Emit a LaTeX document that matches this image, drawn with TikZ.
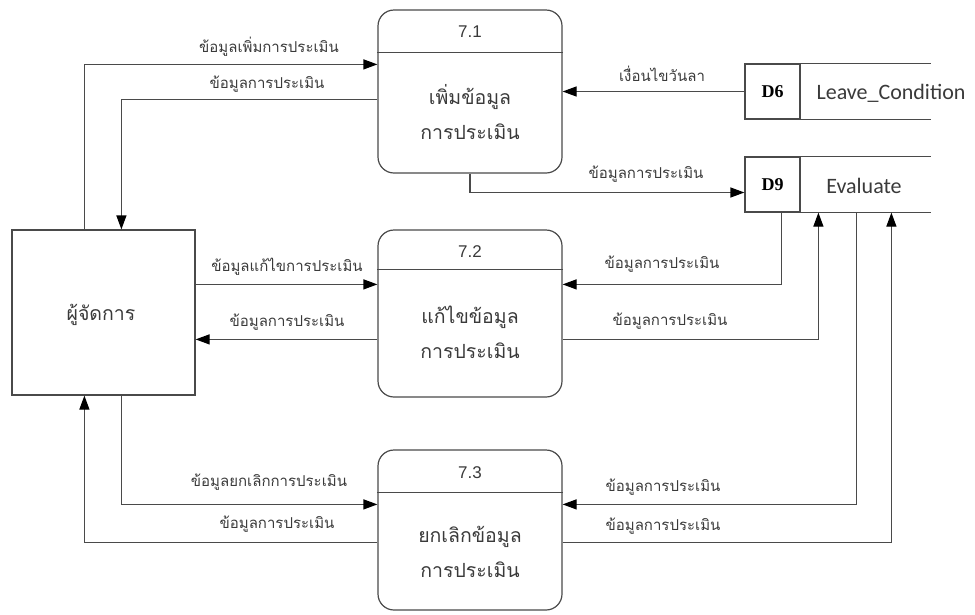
\documentclass[tikz,border=0pt]{standalone}
\usepackage{fontspec}
\usetikzlibrary{arrows.meta,calc}
\newfontfamily\thaifont[Script=Thai]{Loma}
\newfontfamily\numfont{Liberation Sans}
\newfontfamily\storefont{Carlito}
\newfontfamily\idfont{Liberation Serif}
\definecolor{linegray}{HTML}{4A4A4A}
\definecolor{textgray}{HTML}{3A3A3A}
\begin{document}
\begin{tikzpicture}[x=1pt,y=-1pt,
  box/.style={draw=linegray,line width=1.2pt,inner sep=0pt},
  proc/.style={box,rounded corners=16pt,minimum width=184pt},
  flow/.style={draw=linegray,line width=1.2pt,-{Triangle[length=14pt,width=10pt,fill=black,color=black]}},
  edge/.style={draw=linegray,line width=1.2pt},
  lbl/.style={font=\thaifont\fontsize{15}{17}\selectfont,text=textgray,inner sep=0pt},
  ptext/.style={font=\thaifont\fontsize{19.5}{35}\selectfont,text=textgray,align=center,inner sep=0pt},
  pnum/.style={font=\numfont\fontsize{17}{19}\selectfont,text=textgray,inner sep=0pt},
  stid/.style={box,minimum width=55pt,minimum height=55pt,font=\idfont\bfseries\fontsize{18}{20}\selectfont},
  stname/.style={font=\storefont\fontsize{22}{24}\selectfont,text=textgray,inner sep=0pt}]
\useasboundingbox (0,0) rectangle (975,614);

% external entity
\node[box,minimum width=183pt,minimum height=165pt] (mgr) at (103.5,312.5) {};
\node[ptext,font=\thaifont\fontsize{19.5}{22}\selectfont] (mgrt) at (101,315) {ผู้จัดการ};

% processes
\node[proc,minimum height=163pt] (p1) at (470,91.5) {};
\node[proc,minimum height=167pt] (p2) at (470,313.5) {};
\node[proc,minimum height=160pt] (p3) at (470,530) {};
\foreach \p/\h in {p1/43,p2/40,p3/43}
  \draw[edge] ([yshift=-\h pt]\p.north west) -- ([yshift=-\h pt]\p.north east);
\node[pnum] (n1) at (470,32) {7.1};
\node[pnum] (n2) at (470,252) {7.2};
\node[pnum] (n3) at (470,473) {7.3};
\node[ptext] (t1) at (470,112) {เพิ่มข้อมูล\\การประเมิน};
\node[ptext] (t2) at (470,332) {แก้ไขข้อมูล\\การประเมิน};
\node[ptext] (t3) at (470,552) {ยกเลิกข้อมูล\\การประเมิน};

% data stores
\node[stid] (d6) at (772.5,91.5) {D6};
\node[stid] (d9) at (772.5,184.5) {D9};
\draw[edge] (d6.north east) -- ++(130,0) coordinate (d6ne);
\draw[edge] (d6.south east) -- ++(130,0) coordinate (d6se);
\draw[edge] (d9.north east) -- ++(130,0) coordinate (d9ne);
\draw[edge] (d9.south east) -- ++(130,0) coordinate (d9se);
\node[stname] (d6n) at (891,93) {Leave\_Condition};
\node[stname] (d9n) at (864,186) {Evaluate};

% flows between manager and 7.1
\draw[flow] ([xshift=73pt]mgr.north west) |- ([yshift=-55pt]p1.north west);
\node[lbl] at (269,47) {ข้อมูลเพิ่มการประเมิน};
\draw[flow] ([yshift=-90pt]p1.north west) -| ([xshift=110pt]mgr.north west);
\node[lbl] at (267,84) {ข้อมูลการประเมิน};

% flows of 7.1 and the stores
\draw[flow] (d6.west) -- (d6.west -| p1.east);
\node[lbl] at (662,74) {เงื่อนไขวันลา};
\draw[flow] (p1.south) |- ([yshift=-8pt]d9.west);
\node[lbl] at (646,174) {ข้อมูลการประเมิน};

% flows between manager and 7.2
\draw[flow] ([yshift=-55pt]mgr.north east) -- ([yshift=-55pt]mgr.north east -| p2.west);
\node[lbl] at (287,267) {ข้อมูลแก้ไขการประเมิน};
\draw[flow] ([yshift=-110pt]p2.north west) -- ([yshift=-110pt]p2.north west -| mgr.east);
\node[lbl] at (287,322) {ข้อมูลการประเมิน};

% flows between 7.2 and D9
\draw[flow] ([xshift=37pt]d9.south west) |- ([yshift=-55pt]p2.north east);
\node[lbl] at (662,264) {ข้อมูลการประเมิน};
\draw[flow] ([yshift=-110pt]p2.north east) -| ([xshift=74pt]d9.south west);
\node[lbl] at (670,321) {ข้อมูลการประเมิน};

% flows between 7.3 and D9
\draw[flow] ([xshift=112pt]d9.south west) |- ([yshift=-55pt]p3.north east);
\node[lbl] at (663,487) {ข้อมูลการประเมิน};
\draw[flow] ([yshift=-93pt]p3.north east) -| ([xshift=147pt]d9.south west);
\node[lbl] at (663,526) {ข้อมูลการประเมิน};

% flows between manager and 7.3
\draw[flow] ([xshift=110pt]mgr.south west) |- ([yshift=-55pt]p3.north west);
\node[lbl] at (269,482) {ข้อมูลยกเลิกการประเมิน};
\draw[flow] ([yshift=-93pt]p3.north west) -| ([xshift=73pt]mgr.south west);
\node[lbl] at (277,524) {ข้อมูลการประเมิน};
\end{tikzpicture}
\end{document}
